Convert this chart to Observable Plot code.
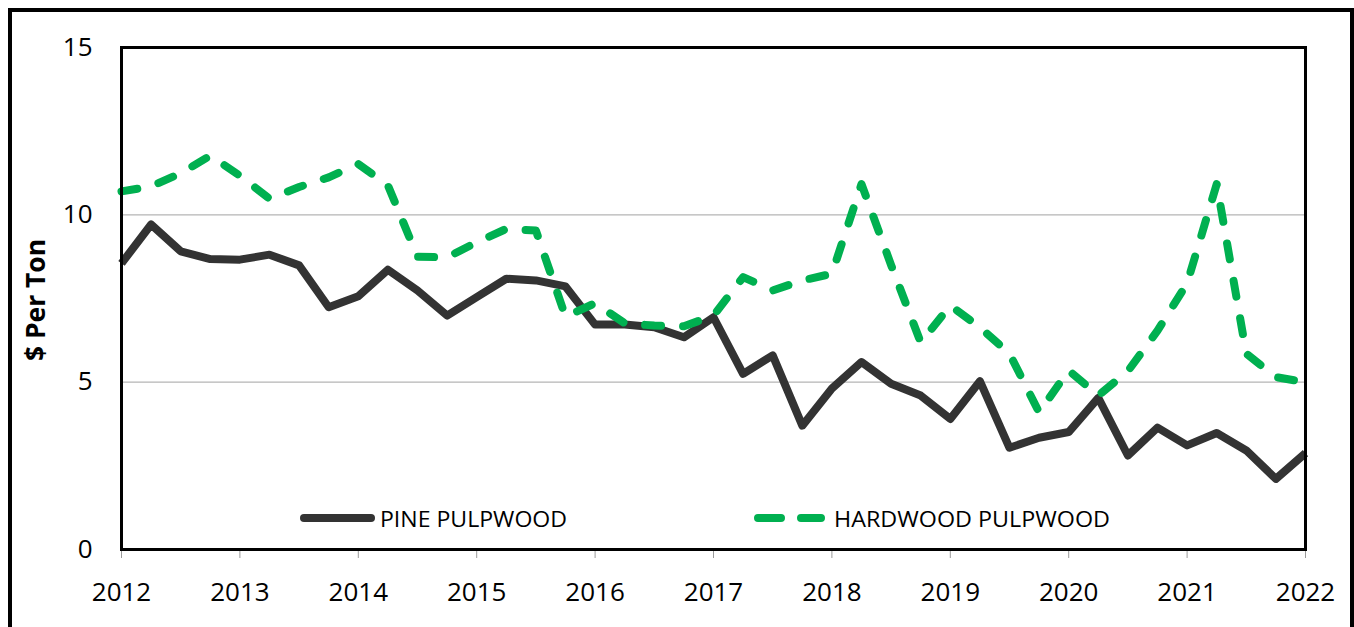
<!DOCTYPE html>
<html>
<head>
<meta charset="utf-8">
<script src="https://cdn.jsdelivr.net/npm/d3@7"></script>
<script src="https://cdn.jsdelivr.net/npm/@observablehq/plot@0.6"></script>
<style>
  body { margin: 0; background: #fff; }
  #wrap { position: relative; width: 1354px; height: 627px; overflow: hidden; background: #fff; }
  #overlay { position: absolute; left: 0; top: 0; pointer-events: none; }
</style>
</head>
<body>
<div id="wrap"></div>
<script>
// Quarterly periods 2012 Q1 .. 2022 Q1
const quarters = [2012, 2012.25, 2012.5, 2012.75, 2013, 2013.25, 2013.5, 2013.75,
  2014, 2014.25, 2014.5, 2014.75, 2015, 2015.25, 2015.5, 2015.75,
  2016, 2016.25, 2016.5, 2016.75, 2017, 2017.25, 2017.5, 2017.75,
  2018, 2018.25, 2018.5, 2018.75, 2019, 2019.25, 2019.5, 2019.75,
  2020, 2020.25, 2020.5, 2020.75, 2021, 2021.25, 2021.5, 2021.75, 2022];

const pine = [8.55, 9.71, 8.91, 8.68, 8.66, 8.81, 8.49, 7.24,
  7.57, 8.36, 7.74, 6.99, 7.54, 8.09, 8.04, 7.86,
  6.72, 6.72, 6.64, 6.34, 6.94, 5.25, 5.80, 3.70,
  4.81, 5.60, 4.95, 4.60, 3.90, 5.03, 3.04, 3.34,
  3.51, 4.53, 2.81, 3.64, 3.11, 3.48, 2.96, 2.11, 2.88];

const hardwood = [10.70, 10.85, 11.24, 11.77, 11.17, 10.48, 10.83, 11.12,
  11.52, 10.88, 8.75, 8.73, 9.18, 9.58, 9.53, 6.96,
  7.36, 6.76, 6.69, 6.67, 6.99, 8.14, 7.74, 8.04,
  8.24, 10.92, 8.50, 6.19, 7.29, 6.64, 5.85, 4.10,
  5.35, 4.60, 5.33, 6.54, 7.95, 10.92, 5.85, 5.15, 5.00];

const years = [2012, 2013, 2014, 2015, 2016, 2017, 2018, 2019, 2020, 2021, 2022];
const yTicks = [0, 5, 10, 15];
const gridValues = [5, 10];
const seriesNames = ["PINE PULPWOOD", "HARDWOOD PULPWOOD"];
const yLabel = "$ Per Ton";

const pineColor = "#333333";
const hardColor = "#00B050";

const chart = Plot.plot({
  width: 1354,
  height: 627,
  marginLeft: 121,
  marginRight: 49,
  marginTop: 47,
  marginBottom: 78,
  style: { fontFamily: "Open Sans", fontSize: "26px", color: "black", background: "white", overflow: "visible" },
  x: { domain: [2012, 2022] },
  y: { domain: [0, 15] },
  marks: [
    Plot.ruleY(gridValues, { stroke: "#b5b5b5", strokeWidth: 1.3 }),
    Plot.axisY({ ticks: yTicks, tickSize: 0, tickPadding: 29, label: null, fontSize: 26 }),
    Plot.axisX({ ticks: years, tickSize: 9, stroke: "#9a9a9a", tickFormat: () => "", label: null }),
    Plot.axisX({ ticks: years, tickSize: 0, tickPadding: 33, tickFormat: "d", label: null, fontSize: 26 }),
    Plot.line(quarters, { x: quarters, y: pine, stroke: pineColor, strokeWidth: 8, strokeLinejoin: "round", strokeLinecap: "butt" }),
    Plot.line(quarters, { x: quarters, y: hardwood, stroke: hardColor, strokeWidth: 8, strokeLinejoin: "round", strokeLinecap: "round", strokeDasharray: "16 22" }),
    Plot.frame({ stroke: "black", strokeWidth: 3 })
  ]
});

const wrap = document.getElementById("wrap");
wrap.appendChild(chart);

// Overlay: outer border, y-axis title, legend
const ov = d3.select(wrap).append("svg")
  .attr("id", "overlay")
  .attr("width", 1354).attr("height", 627);

ov.append("rect")
  .attr("x", 10).attr("y", 10).attr("width", 1342).attr("height", 700)
  .attr("fill", "none").attr("stroke", "black").attr("stroke-width", 4);

ov.append("text")
  .attr("transform", "translate(45,300) rotate(-90)")
  .attr("text-anchor", "middle")
  .attr("font-family", "Open Sans")
  .attr("font-weight", "bold")
  .attr("font-size", 26)
  .attr("textLength", 122)
  .attr("lengthAdjust", "spacingAndGlyphs")
  .text(yLabel);

const lg = ov.append("g").attr("font-family", "Open Sans").attr("font-size", 22).attr("fill", "black");
lg.append("line").attr("x1", 304).attr("x2", 371).attr("y1", 518).attr("y2", 518)
  .attr("stroke", pineColor).attr("stroke-width", 8).attr("stroke-linecap", "round");
lg.append("text").attr("x", 380).attr("y", 527).attr("textLength", 187)
  .attr("lengthAdjust", "spacingAndGlyphs").text(seriesNames[0]);
lg.append("line").attr("x1", 758).attr("x2", 821).attr("y1", 518).attr("y2", 518)
  .attr("stroke", hardColor).attr("stroke-width", 8).attr("stroke-linecap", "round")
  .attr("stroke-dasharray", "23 20");
lg.append("text").attr("x", 834).attr("y", 527).attr("textLength", 276)
  .attr("lengthAdjust", "spacingAndGlyphs").text(seriesNames[1]);
</script>
</body>
</html>
